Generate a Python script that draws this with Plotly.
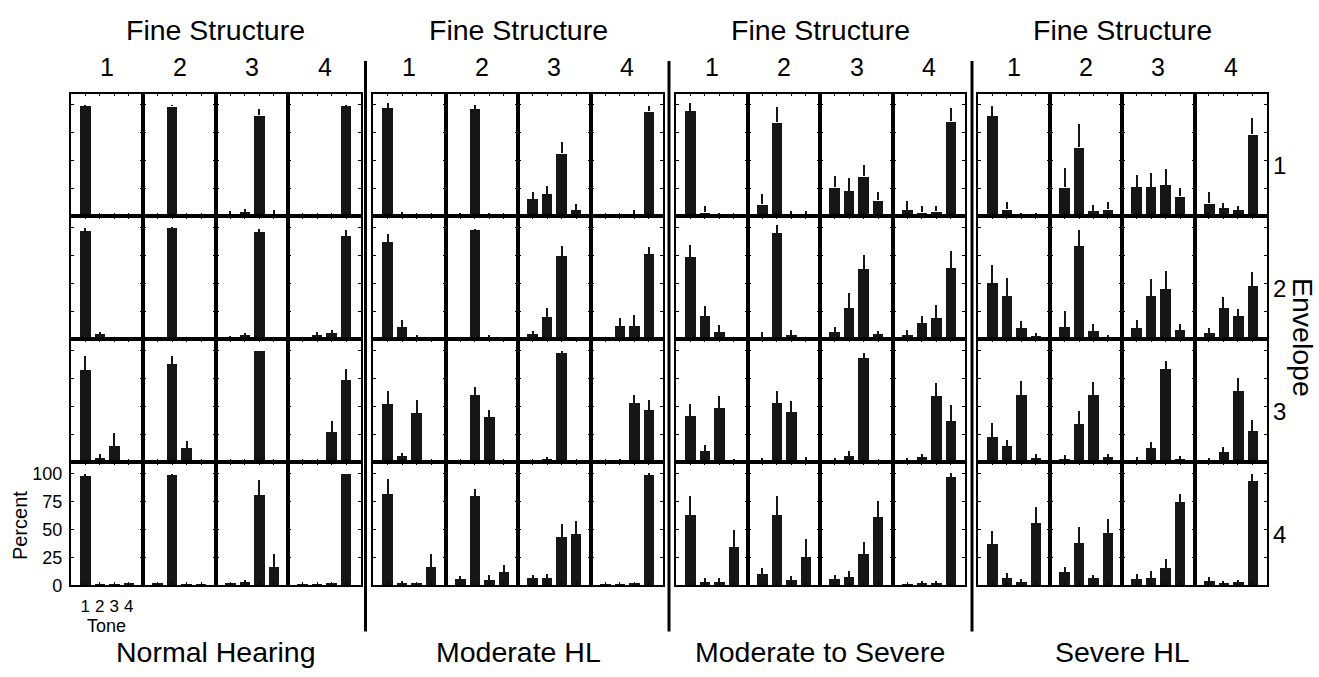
import plotly.graph_objects as go

# ---------------- data ----------------
TONES = [1, 2, 3, 4]
TONE_LABELS = ["1", "2", "3", "4"]
Y_TICKS = [0, 25, 50, 75, 100]
Y_TICK_LABELS = ["0", "25", "50", "75", "100"]
GROUP_NAMES = ["Normal Hearing", "Moderate HL", "Moderate to Severe", "Severe HL"]
FINE_LABELS = ["1", "2", "3", "4"]
ENV_LABELS = ["1", "2", "3", "4"]

# [envelope row][fine-structure column][tone]  (percent)
nh_mean = [
    [[99, 0, 0, 0], [0, 98.5, 0, 0], [1.8, 3.8, 90.6, 2.4], [0.5, 0.5, 0.5, 98.8]],
    [[96.2, 4.4, 0.9, 0], [1, 99.7, 0, 0], [1.8, 3.8, 95.3, 1.2], [0.3, 3.8, 5.3, 92.4]],
    [[82.6, 3.2, 14.4, 0.5], [1.2, 87.9, 12.1, 0.3], [0.9, 1.5, 99.1, 1.2], [0.5, 0.8, 26.8, 72.9]],
    [[97.6, 0.3, 0.3, 1.5], [0.9, 98.5, 0.2, 0.2], [0.9, 2.6, 80.6, 16.2], [0.2, 0.2, 0.9, 99.1]],
]
nh_err = [
    [[1, 0, 0, 0], [0, 1.5, 0, 0], [2.9, 3, 5.9, 3.5], [0, 0, 0, 1.2]],
    [[3.5, 1.8, 0.5, 0], [0.5, 0.3, 0, 0], [1.4, 1.8, 2.9, 0.6], [0, 3, 2.9, 5]],
    [[13, 4.2, 12.1, 0], [0.5, 7.1, 7.3, 0], [0.3, 0.5, 0.9, 0.5], [0, 0.3, 10.2, 10.9]],
    [[1.8, 0, 0, 0.6], [0.6, 1.5, 0, 0], [1.1, 1.8, 13.2, 11.7], [0, 0, 0.5, 0.9]],
]
mod_mean = [
    [[97.4, 1.5, 0.2, 0.2], [1.5, 96.2, 1.5, 0.6], [15.6, 20.3, 56.5, 5.9], [0.9, 0.9, 2.4, 94.1]],
    [[87.1, 11.2, 2.1, 0.2], [0.6, 97.1, 2.1, 0.9], [5.0, 20, 74.7, 1.2], [0.5, 12.1, 12.1, 76.2]],
    [[51.5, 5.3, 43.8, 0.5], [0.6, 59.7, 40, 0.6], [0.3, 2.9, 97.4, 0.6], [0.3, 1.8, 52.4, 46.5]],
    [[81.2, 2.1, 0.9, 16.2], [5.6, 79.4, 4.7, 11.5], [6.2, 6.2, 43.2, 45.3], [0.3, 0.3, 1.2, 98.2]],
]
mod_err = [
    [[4.1, 2.6, 0, 0], [1.7, 3.8, 1.7, 0], [6.5, 6.8, 9.7, 5.3], [0, 0, 2.9, 4.4]],
    [[7.3, 6.4, 2, 0], [0, 1.7, 2, 0], [2.9, 8.5, 8.5, 0.8], [0, 7.3, 9.4, 6.7]],
    [[12.6, 2.9, 12.1, 0], [0, 7.4, 7.1, 0], [0, 1.5, 2, 0], [0, 1.1, 8.2, 9.4]],
    [[13.5, 2, 0, 11.4], [2.9, 7.1, 4.7, 6.7], [3.2, 3.5, 11.8, 11.8], [0, 0, 0, 2.4]],
]
ms_mean = [
    [[94.4, 3.5, 1.5, 0.3], [10.6, 84.4, 2.1, 2.1], [25.9, 22.9, 35.9, 14.4], [5.9, 3.5, 4.4, 85]],
    [[73.8, 20.6, 6.2, 0.9], [1.8, 94.4, 3.8, 0.2], [6.5, 27.9, 62.6, 4.4], [4.1, 14.7, 19.1, 63.8]],
    [[41.5, 10, 48.5, 2.1], [2.1, 52.4, 45, 2.1], [2.1, 5.3, 92.9, 0.6], [1.8, 4.4, 58.8, 36.5]],
    [[62.4, 2.9, 2.6, 33.5], [9.4, 62.4, 4.7, 25.3], [5.6, 7.1, 27.9, 61.2], [0.6, 1.5, 1.5, 96.8]],
]
ms_err = [
    [[7.1, 5.6, 1.1, 0], [9.4, 13.5, 2.3, 2.6], [10, 11.2, 9.7, 7.7], [8.2, 5.3, 5, 12.1]],
    [[10.9, 9.1, 6.4, 0], [4.4, 7.4, 4.4, 0], [5, 13.9, 12.7, 3], [4.7, 5.9, 11.5, 15.6]],
    [[11.1, 5.3, 11.2, 1.1], [1.7, 11.7, 10.3, 2.6], [2, 4.7, 4.5, 0], [2, 3, 12.1, 14.4]],
    [[17.6, 3.6, 3.6, 15.9], [5.9, 17.6, 3.5, 16.5], [3.8, 5.8, 10.9, 13.8], [0, 2.6, 2, 4.1]],
]
sev_mean = [
    [[90, 6.2, 1.5, 1.5], [25.9, 61.8, 4.7, 6.2], [26.2, 26.2, 28.2, 17.9], [11.5, 7.4, 5.6, 73.5]],
    [[50, 38.5, 10, 2.4], [10.6, 82.9, 7.1, 1.5], [9.7, 38.5, 45, 8.5], [5.9, 27.4, 20.3, 47.6]],
    [[22.6, 14.4, 60.3, 3.5], [2.9, 33.8, 60.3, 4.1], [2.1, 12.4, 83.5, 2.9], [1.8, 8.5, 63.2, 27.4]],
    [[36.2, 6.2, 2.9, 55.6], [11.8, 37.6, 5.9, 46.8], [5.6, 6.5, 14.7, 74.4], [3.5, 1.5, 2.4, 93.2]],
]
sev_err = [
    [[8.5, 6.2, 1.1, 1.4], [17.6, 20.8, 5, 6.2], [10.6, 12.6, 14.2, 7.1], [10.6, 4.7, 3.8, 14.4]],
    [[16.8, 16.2, 6.8, 2.9], [15, 14.5, 7, 2], [7.9, 15.6, 15.9, 5], [4.7, 10.8, 7.3, 13]],
    [[12.7, 5.6, 12.9, 3.6], [3.3, 11.8, 11.2, 3.5], [2.6, 6.1, 6.8, 2.4], [2, 5.6, 12.1, 10.2]],
    [[12.6, 5, 2.4, 14.7], [4.7, 14.2, 3.5, 12.6], [4.7, 6.4, 8.5, 7.7], [3.6, 2.3, 2.6, 6.2]],
]

# ---------------- layout geometry (pixels) ----------------
W, H = 1319, 677
GX = [(70.7, 361.0), (373.0, 663.3), (675.7, 965.0), (978.0, 1266.7)]
RY = [95, 219.5, 344.5, 469.3, 594]
SEP_X = [365.5, 669.0, 972.0]
BAR = "#161616"
FONT = "Liberation Sans, Arial, Helvetica, sans-serif"

def px(x):
    return x / W

def py(y):
    return 1 - y / H

groups = [(nh_mean, nh_err), (mod_mean, mod_err), (ms_mean, ms_err), (sev_mean, sev_err)]

fig = go.Figure()
lay = {}
k = 0
for g, (M, E) in enumerate(groups):
    x0, x1 = GX[g]
    pw = (x1 - x0) / 4
    for r in range(4):
        for c in range(4):
            k += 1
            xn = "x" if k == 1 else f"x{k}"
            yn = "y" if k == 1 else f"y{k}"
            fig.add_trace(go.Bar(
                x=TONES, y=M[r][c], width=0.72,
                marker=dict(color=BAR, line=dict(width=0)),
                error_y=dict(type="data", symmetric=False, array=E[r][c],
                             arrayminus=[0] * 4, thickness=2, width=0, color=BAR),
                xaxis=xn, yaxis=yn, showlegend=False,
            ))
            show = (g == 0 and r == 3 and c == 0)
            common = dict(showline=True, linewidth=1.8, linecolor="black", mirror="ticks",
                          ticks="inside", ticklen=3, tickwidth=1, tickcolor="black",
                          showgrid=False, zeroline=False, fixedrange=True)
            lay["xaxis" if k == 1 else f"xaxis{k}"] = dict(
                domain=[px(x0 + c * pw), px(x0 + (c + 1) * pw)], anchor=yn,
                range=[0, 5], tickvals=TONES, ticktext=TONE_LABELS,
                tickfont=dict(size=17, color="black", family=FONT),
                showticklabels=show, ticklabelstandoff=4, **common)
            lay["yaxis" if k == 1 else f"yaxis{k}"] = dict(
                domain=[py(RY[r + 1]), py(RY[r])], anchor=xn,
                range=[0, 110], tickvals=Y_TICKS, ticktext=Y_TICK_LABELS,
                tickfont=dict(size=18, color="black", family=FONT),
                showticklabels=show, ticklabelstandoff=3, **common)

ann = []
def add_text(text, x, y, size, angle=0):
    ann.append(dict(text=text, x=px(x), y=py(y), xref="paper", yref="paper",
                    xanchor="center", yanchor="middle", showarrow=False, textangle=angle,
                    font=dict(size=size, color="black", family=FONT)))

for g in range(4):
    x0, x1 = GX[g]
    pw = (x1 - x0) / 4
    add_text("Fine Structure", (x0 + x1) / 2, 30, 28.5)
    add_text(GROUP_NAMES[g], (x0 + x1) / 2, 662, 28.5)
    for c in range(4):
        add_text(FINE_LABELS[c], x0 + (c + 0.5) * pw, 68, 25)
for r in range(4):
    add_text(ENV_LABELS[r], 1279, (RY[r] + RY[r + 1]) / 2 + 11, 24)
add_text("Envelope", 1303, 342, 28.5, 90)
add_text("Percent", 20, 534, 20, -90)
add_text("Tone", 107, 635, 18)

shapes = [dict(type="line", xref="paper", yref="paper", x0=px(sx), x1=px(sx),
               y0=py(641), y1=py(62), line=dict(color="black", width=3)) for sx in SEP_X]

fig.update_layout(
    width=W, height=H, margin=dict(l=0, r=0, t=0, b=0),
    paper_bgcolor="white", plot_bgcolor="white",
    font=dict(family=FONT, color="black"),
    annotations=ann, shapes=shapes, barmode="group", bargap=0,
    **lay,
)
fig.write_html("out.html")
